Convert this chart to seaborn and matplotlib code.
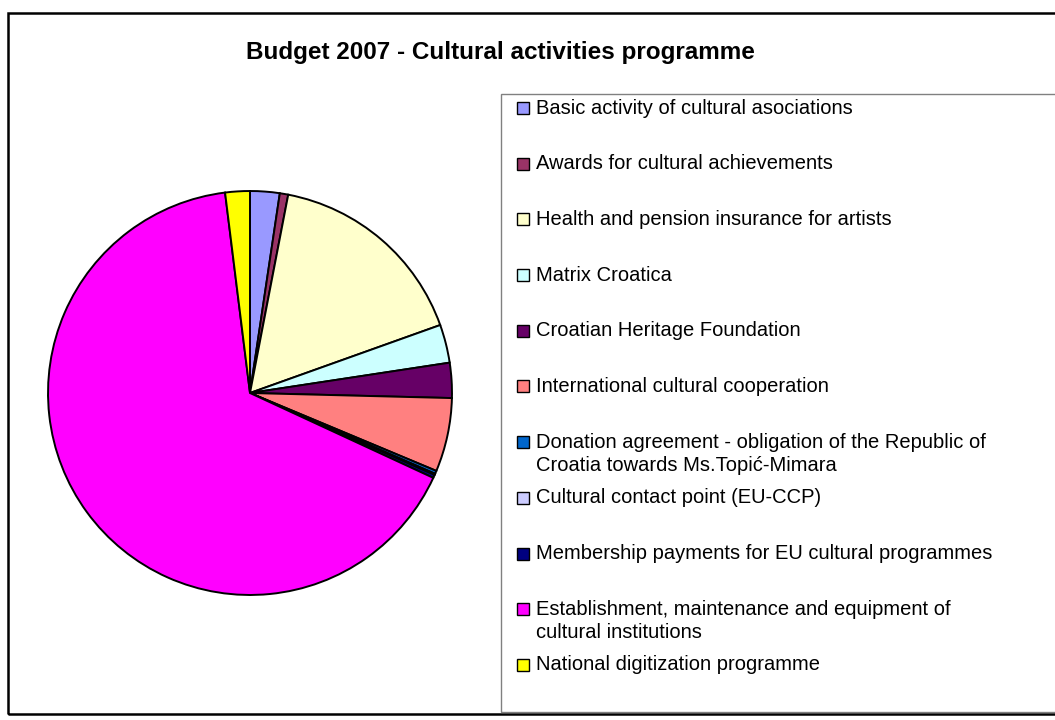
import matplotlib
matplotlib.use("Agg")
import matplotlib.pyplot as plt
from matplotlib.patches import Rectangle
import seaborn as sns

# Budget shares (percent), clockwise from 12 o'clock
categories = [
    "Basic activity of cultural asociations",
    "Awards for cultural achievements",
    "Health and pension insurance for artists",
    "Matrix Croatica",
    "Croatian Heritage Foundation",
    "International cultural cooperation",
    "Donation agreement - obligation of the Republic of\nCroatia towards Ms.Topić-Mimara",
    "Cultural contact point (EU-CCP)",
    "Membership payments for EU cultural programmes",
    "Establishment, maintenance and equipment of\ncultural institutions",
    "National digitization programme",
]
shares = [2.36, 0.67, 16.5, 3.06, 2.8, 5.9, 0.25, 0.1, 0.25, 66.1, 1.97]
colors = ["#9999FF", "#993366", "#FFFFCC", "#CCFFFF", "#660066", "#FF8080",
          "#0066CC", "#CCCCFF", "#000080", "#FF00FF", "#FFFF00"]

sns.set_theme(style="white")
plt.rcParams["font.family"] = ["Liberation Sans", "DejaVu Sans"]

W, H = 1055, 720
fig = plt.figure(figsize=(W / 100, H / 100), dpi=100)
fig.patch.set_facecolor("white")

def fx(px):
    return px / W

def fy(py):
    return 1 - py / H

# outer chart border (runs off the right edge, as in the source)
fig.patches.append(Rectangle((fx(8), fy(714)), fx(1070) - fx(8), fy(13) - fy(714),
                             transform=fig.transFigure, fill=False,
                             edgecolor="black", linewidth=1.8, zorder=0))

fig.text(fx(500), fy(53), "Budget 2007 - Cultural activities programme",
         ha="center", va="center", fontsize=17.5, fontweight="bold", color="black")

# pie
cx, cy, r = 250, 393, 204
ax = fig.add_axes([fx(cx - r), fy(cy + r), fx(2 * r), (2 * r) / H])
ax.pie(shares, colors=colors, startangle=90, counterclock=False,
       wedgeprops=dict(edgecolor="black", linewidth=1.4))
ax.set_xlim(-1.01, 1.01)
ax.set_ylim(-1.01, 1.01)
ax.set_aspect("equal")
ax.axis("off")

# legend box
fig.patches.append(Rectangle((fx(501), fy(712)), fx(1070) - fx(501), fy(94) - fy(712),
                             transform=fig.transFigure, fill=False,
                             edgecolor="#808080", linewidth=1.0, zorder=1))

row0, step, line_h = 108, 55.7, 23
for i, (lab, col) in enumerate(zip(categories, colors)):
    y = row0 + i * step
    fig.patches.append(Rectangle((fx(517), fy(y + 6)), fx(12), 12 / H,
                                 transform=fig.transFigure, facecolor=col,
                                 edgecolor="black", linewidth=1.0, zorder=2))
    for j, part in enumerate(lab.split("\n")):
        fig.text(fx(536), fy(y + j * line_h), part, ha="left", va="center",
                 fontsize=14.5, color="black")

fig.savefig("out.png", dpi=100, facecolor="white")
